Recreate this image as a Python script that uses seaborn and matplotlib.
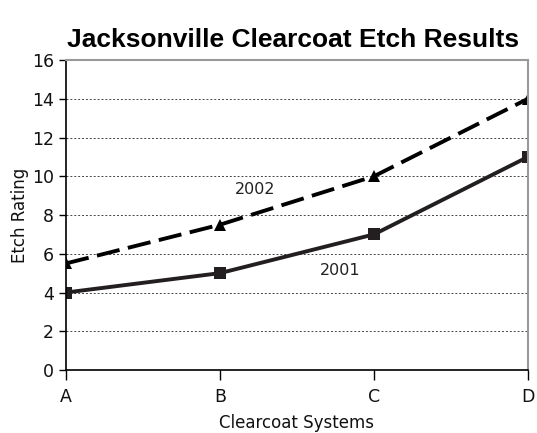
import pandas as pd
import matplotlib
matplotlib.use("Agg")
import matplotlib.pyplot as plt
import seaborn as sns

sistemas = ["A", "B", "C", "D"]
etch_2001 = [4, 5, 7, 11]
etch_2002 = [5.5, 7.5, 10, 14]

df = pd.DataFrame({
    "Sistema": list(range(len(sistemas))) * 2,
    "Etch": etch_2001 + etch_2002,
    "Año": ["2001"] * 4 + ["2002"] * 4,
})

sns.set_style("white")
plt.rcParams['font.family'] = ['DejaVu Sans']
plt.rcParams['text.color'] = 'black'

fig = plt.figure(figsize=(5.37, 4.33), dpi=100)
ax = fig.add_axes([0.1229, 0.1455, 0.8603, 0.7159])

sns.lineplot(data=df, x="Sistema", y="Etch", hue="Año", style="Año",
             palette={"2001": "#231f20", "2002": "#000000"},
             dashes={"2001": "", "2002": (6, 2.2)},
             markers={"2001": "s", "2002": "^"},
             markersize=8, linewidth=2.8, markeredgewidth=0,
             legend=False, ax=ax)

ax.set_xlim(0, 3)
ax.set_ylim(0, 16)
ax.set_yticks(range(0, 17, 2))
ax.set_xticks(range(4))
ax.set_xticklabels(sistemas)
ax.tick_params(axis="both", labelsize=12.5, direction="out", length=5, width=1,
               color="black", labelcolor="#111111", bottom=True, left=True)
ax.tick_params(axis="x", length=7, pad=6)
for y in range(2, 16, 2):
    ax.axhline(y, color="#444444", linestyle=(0, (2, 2)), linewidth=0.7, zorder=0)
ax.spines["left"].set_color("black")
ax.spines["bottom"].set_color("black")
ax.spines["left"].set_linewidth(1.2)
ax.spines["bottom"].set_linewidth(1.2)
ax.spines["top"].set_color("#999999")
ax.spines["right"].set_color("#999999")
ax.spines["top"].set_linewidth(1.5)
ax.spines["right"].set_linewidth(1.5)

ax.set_xlabel("Clearcoat Systems", fontsize=12, color="#111111", labelpad=6)
ax.set_ylabel("Etch Rating", fontsize=12, color="#111111", labelpad=2)
ax.text(1.23, 9.3, "2002", fontsize=11.5, ha="center", va="center", color="#222222")
ax.text(1.78, 5.16, "2001", fontsize=11.5, ha="center", va="center", color="#222222")

fig.suptitle("Jacksonville Clearcoat Etch Results", fontsize=19, fontweight="bold",
             family="Liberation Sans", x=0.545, y=0.935, color="black")

fig.savefig("out.png", dpi=100)
